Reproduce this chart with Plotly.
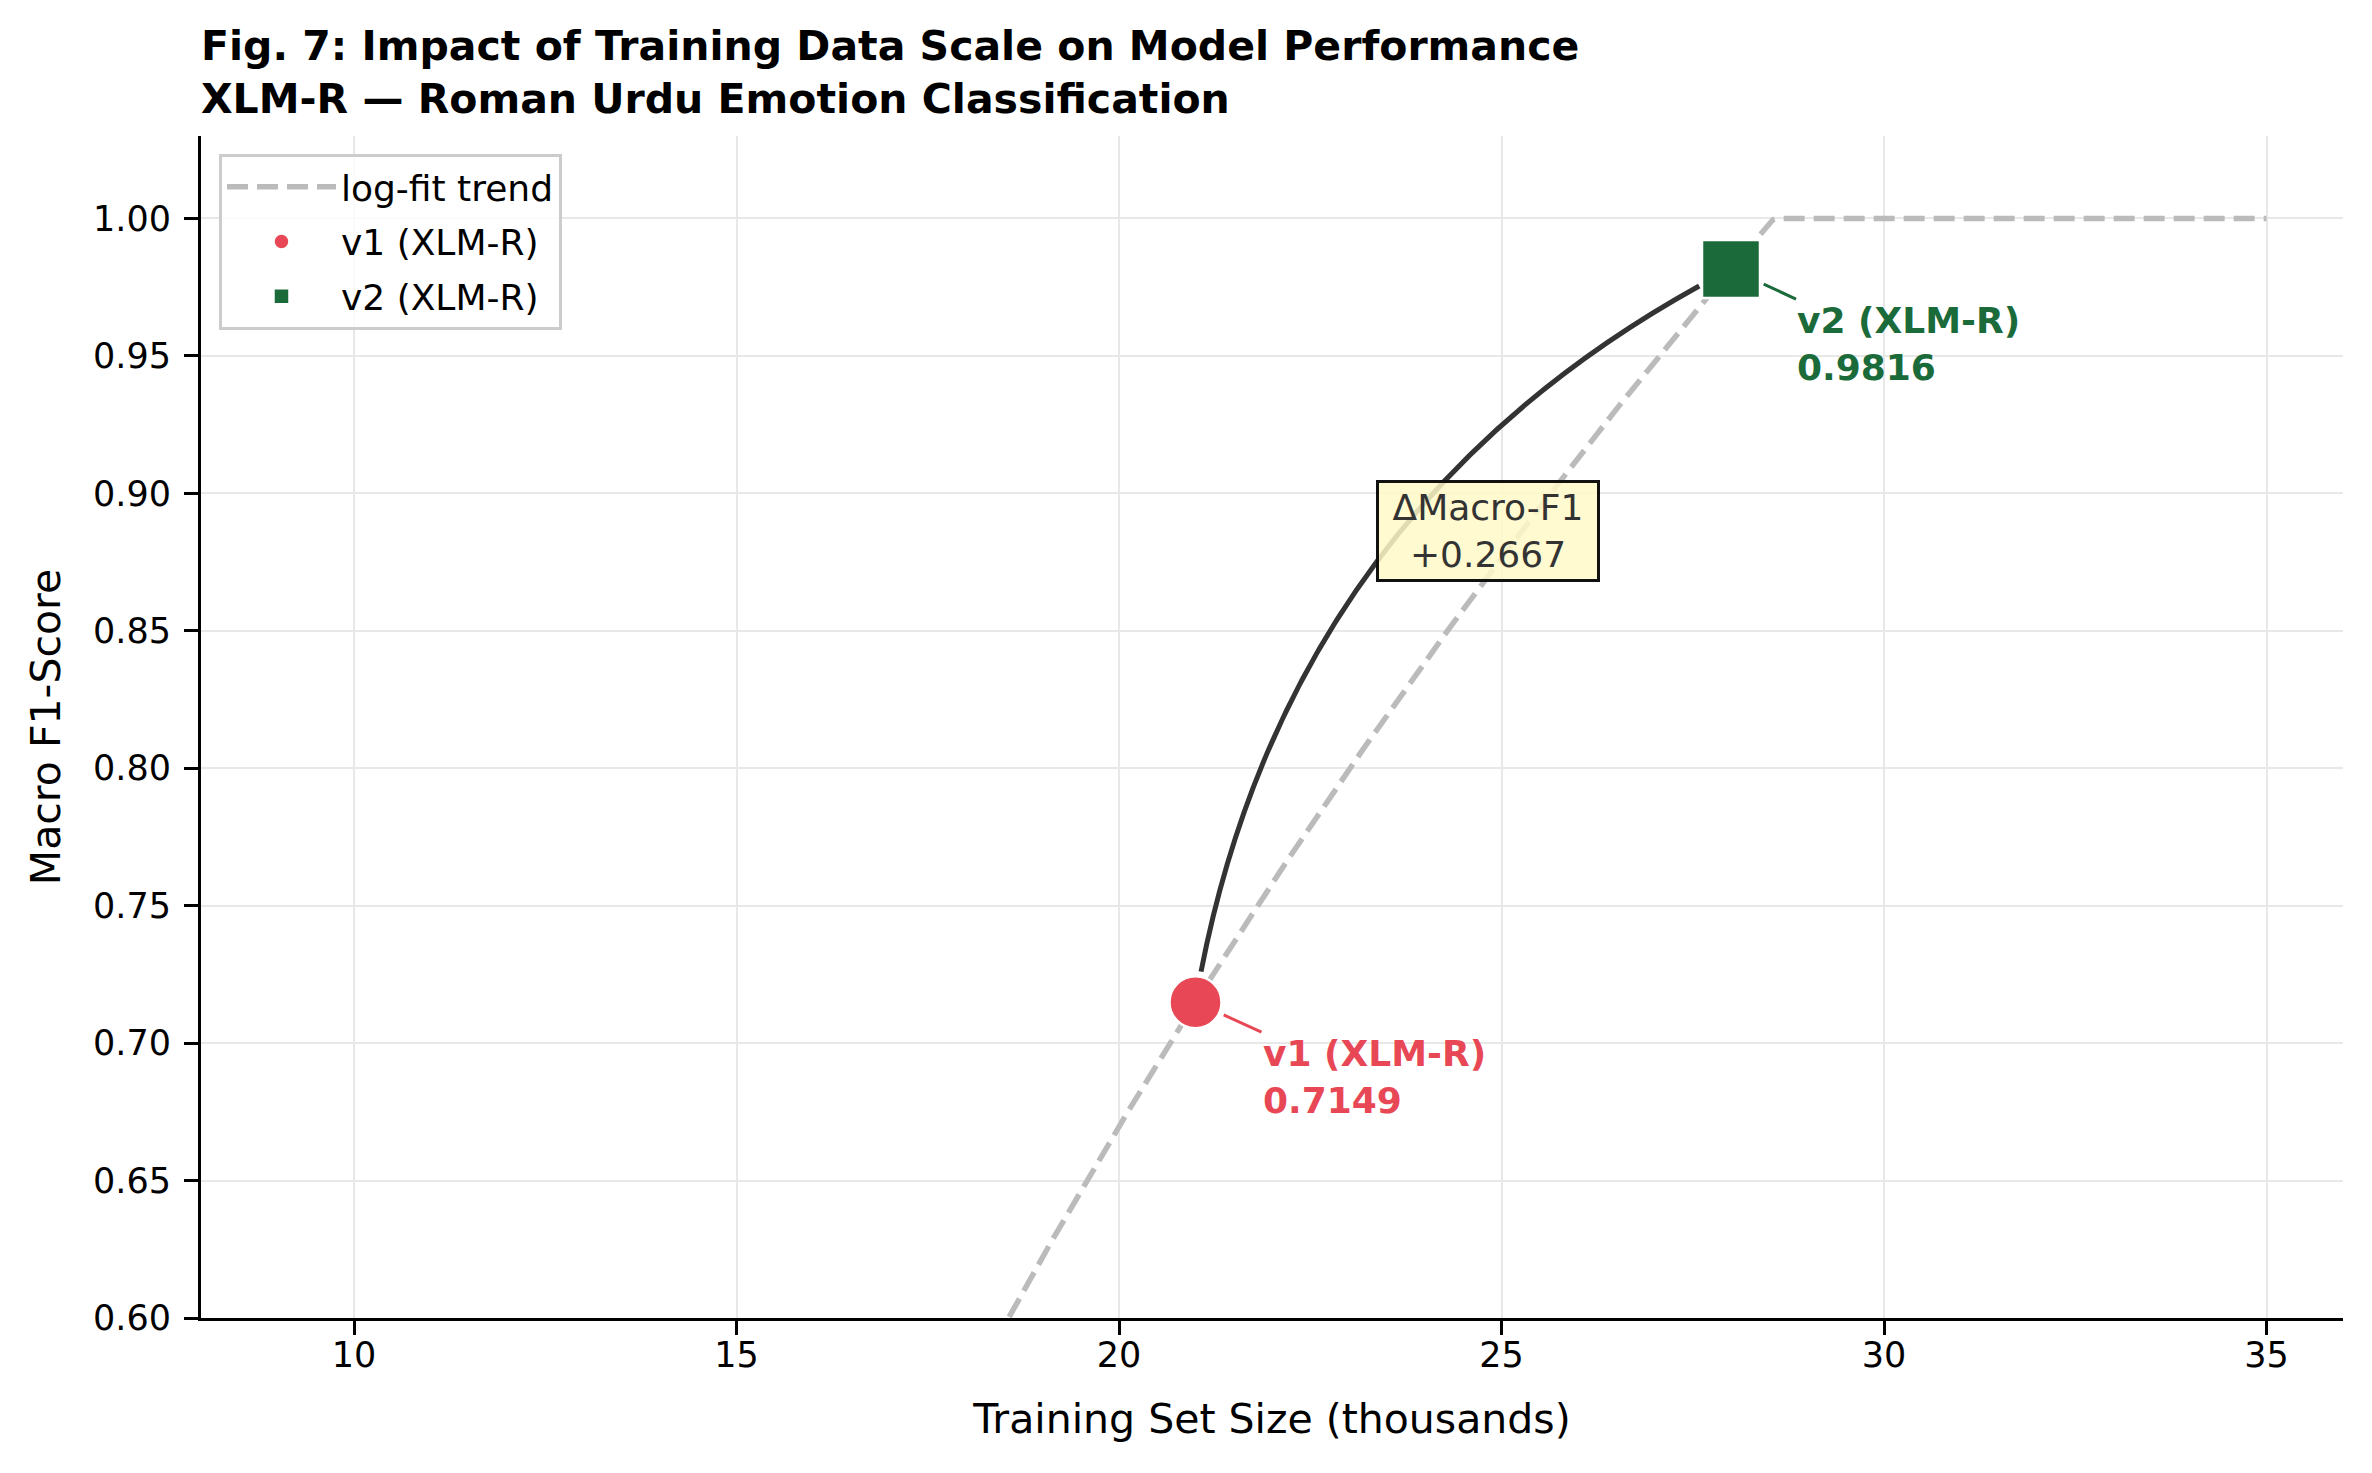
import numpy as np
import plotly.graph_objects as go

# ---------------- data ----------------
versions = ["v1 (XLM-R)", "v2 (XLM-R)"]
train_size_k = [21, 28]          # training set size (thousands)
macro_f1 = [0.7149, 0.9816]
delta_f1 = macro_f1[1] - macro_f1[0]

x_ticks = [10, 15, 20, 25, 30, 35]
y_ticks = [0.60, 0.65, 0.70, 0.75, 0.80, 0.85, 0.90, 0.95, 1.00]

# ---------------- styling ----------------
W, H = 2372, 1473
ML, MR, MT, MB = 201, 29, 136, 155
PW, PH = W - ML - MR, H - MT - MB
XR = [8, 36]
YR = [0.60, 1.03]
RED = "#E84855"
GREEN = "#1B6B3A"
FONT = "DejaVu Sans"

# log-fit trend (fitted to the data points, capped at 1.0 as in the figure)
b, a = np.polyfit(np.log(train_size_k), macro_f1, 1)
trend_x = np.linspace(10, 35, 400)
trend_y = np.minimum(a + b * np.log(trend_x), 1.0)

fig = go.Figure()
fig.add_trace(go.Scatter(
    x=trend_x, y=trend_y, mode="lines", name="log-fit trend",
    line=dict(color="#bbbbbb", width=5.5, dash="21px,9px"),
    legendgroup="a", hoverinfo="skip"))
fig.add_trace(go.Scatter(
    x=[train_size_k[0]], y=[macro_f1[0]], mode="markers", name=versions[0],
    marker=dict(symbol="circle", size=52, color=RED, line=dict(color="white", width=2.5)),
    legendgroup="b"))
fig.add_trace(go.Scatter(
    x=[train_size_k[1]], y=[macro_f1[1]], mode="markers", name=versions[1],
    marker=dict(symbol="square", size=58, color=GREEN, line=dict(color="white", width=2.5)),
    legendgroup="c"))

# ---------- curved connector (arc3 style quadratic Bezier) ----------
def to_px(x, y):
    return (np.array([(x - XR[0]) / (XR[1] - XR[0]) * PW,
                      (YR[1] - y) / (YR[1] - YR[0]) * PH]))

def to_data(p):
    return (XR[0] + p[0] / PW * (XR[1] - XR[0]),
            YR[1] - p[1] / PH * (YR[1] - YR[0]))

P0 = to_px(train_size_k[0], macro_f1[0])
P2 = to_px(train_size_k[1], macro_f1[1])
rad = 0.25
d = P2 - P0
C = (P0 + P2) / 2 + rad * np.array([d[1], -d[0]])

def bez(t):
    return (1 - t) ** 2 * P0 + 2 * t * (1 - t) * C + t ** 2 * P2

ts = np.linspace(0, 1, 4001)
pts = np.array([bez(t) for t in ts])
dist0 = np.hypot(*(pts - P0).T)
dist2 = np.hypot(*(pts - P2).T)
t0 = ts[np.argmax(dist0 >= 31)]
t1 = ts[len(ts) - 1 - np.argmax(dist2[::-1] >= 36)]
Q0 = bez(t0)
Q2 = bez(t1)
QC = (1 - t0) * (1 - t1) * P0 + ((1 - t0) * t1 + t0 * (1 - t1)) * C + t0 * t1 * P2
q0, qc, q2 = to_data(Q0), to_data(QC), to_data(Q2)
path = f"M {q0[0]},{q0[1]} Q {qc[0]},{qc[1]} {q2[0]},{q2[1]}"
fig.add_shape(type="path", path=path, xref="x", yref="y",
              line=dict(color="#333333", width=5), layer="above")

# ---------- annotations ----------
fig.add_annotation(
    x=train_size_k[0], y=macro_f1[0], xref="x", yref="y",
    text=f"<b>{versions[0]}<br>{macro_f1[0]:.4f}</b>",
    showarrow=True, arrowhead=0, arrowwidth=3, arrowcolor=RED,
    ax=66, ay=30, standoff=31, xanchor="left", yanchor="top", align="left",
    font=dict(family=FONT, size=36, color=RED), borderpad=0)
fig.add_annotation(
    x=train_size_k[1], y=macro_f1[1], xref="x", yref="y",
    text=f"<b>{versions[1]}<br>{macro_f1[1]:.4f}</b>",
    showarrow=True, arrowhead=0, arrowwidth=3, arrowcolor=GREEN,
    ax=65, ay=30, standoff=36, xanchor="left", yanchor="top", align="left",
    font=dict(family=FONT, size=36, color=GREEN), borderpad=0)
fig.add_annotation(
    x=24.82, y=0.8862, xref="x", yref="y",
    text=f"ΔMacro-F1<br>+{delta_f1:.4f}", showarrow=False,
    bgcolor="rgba(255,249,200,0.85)", bordercolor="#111111", borderwidth=3,
    borderpad=4, width=210,
    font=dict(family=FONT, size=36, color="#333333"))

fig.update_layout(
    width=W, height=H,
    margin=dict(l=ML, r=MR, t=MT, b=MB, autoexpand=False),
    paper_bgcolor="white", plot_bgcolor="white",
    font=dict(family=FONT, size=35, color="black"),
    title=dict(
        text="<b>Fig. 7: Impact of Training Data Scale on Model Performance</b><br>"
             "<b>XLM-R — Roman Urdu Emotion Classification</b>",
        x=ML / W, xanchor="left", xref="container",
        y=1 - 60 / H, yanchor="top",
        font=dict(family=FONT, size=41, color="black")),
    showlegend=True,
    legend=dict(
        x=0.0084, y=0.985, xanchor="left", yanchor="top",
        bgcolor="rgba(255,255,255,0.8)", bordercolor="#cccccc", borderwidth=3,
        font=dict(family=FONT, size=36, color="black"),
        tracegroupgap=5, itemwidth=109),
    xaxis=dict(
        range=XR, tickvals=x_ticks, ticktext=[str(v) for v in x_ticks],
        showgrid=True, gridcolor="#e8e8e8", gridwidth=2,
        showline=True, linecolor="black", linewidth=3, mirror=False,
        ticks="outside", ticklen=14, tickwidth=3, tickcolor="black",
        tickfont=dict(family=FONT, size=35, color="black"),
        ticklabelstandoff=-10,
        zeroline=False, automargin=False,
        title=dict(text="Training Set Size (thousands)", standoff=31,
                   font=dict(family=FONT, size=41, color="black"))),
    yaxis=dict(
        range=YR, tickvals=y_ticks, ticktext=[f"{v:.2f}" for v in y_ticks],
        showgrid=True, gridcolor="#e8e8e8", gridwidth=2,
        showline=True, linecolor="black", linewidth=3, mirror=False,
        ticks="outside", ticklen=14, tickwidth=3, tickcolor="black",
        tickfont=dict(family=FONT, size=35, color="black"),
        ticklabelstandoff=6,
        zeroline=False, automargin=False,
        title=dict(text="Macro F1-Score", standoff=20,
                   font=dict(family=FONT, size=41, color="black"))),
)

fig.write_html("out.html")
